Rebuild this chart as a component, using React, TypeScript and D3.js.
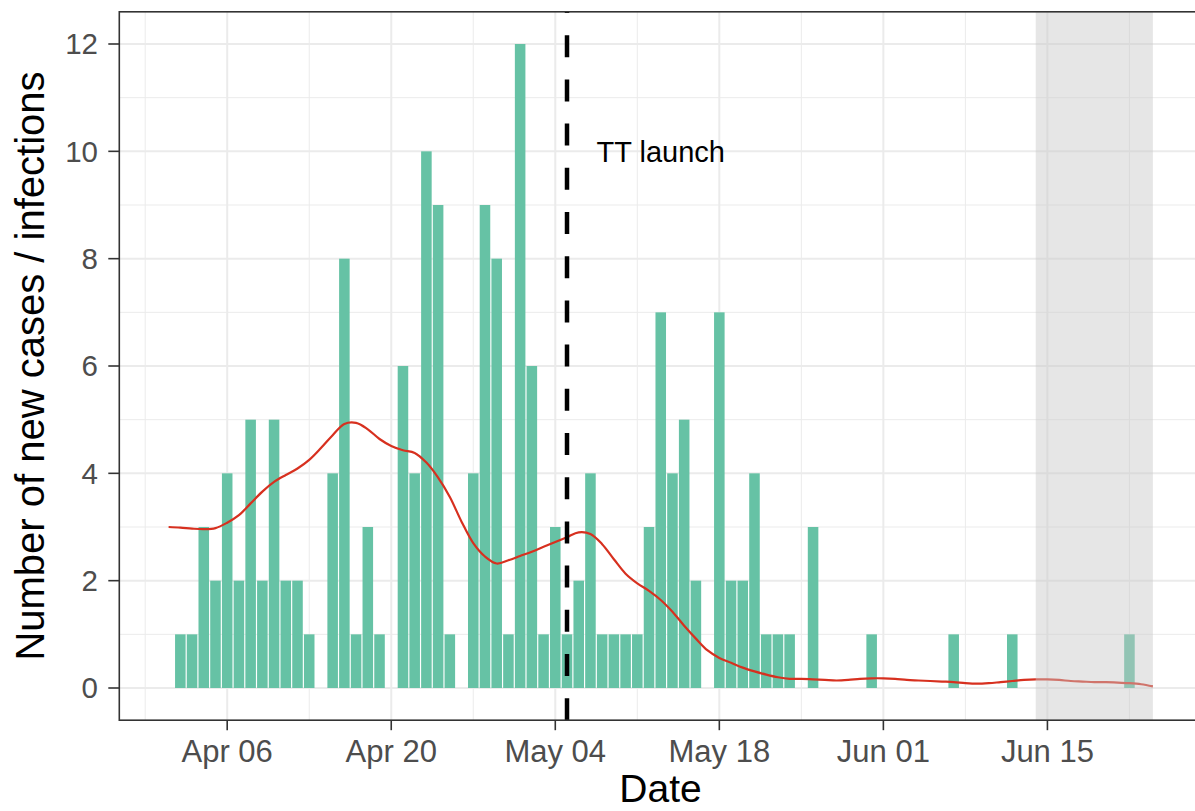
import React from 'react';
import * as d3 from 'd3';

// ---- data ----
const barStart = '2020-04-02';
const barValues = [
  // Apr 2 - Apr 30
  1, 1, 3, 2, 4, 2, 5, 2, 5, 2, 2, 1, 0, 4, 8, 1, 3, 1, 0, 6, 4, 10, 9, 1, 0, 4, 9, 8, 1,
  // May 1 - May 31
  12, 6, 1, 3, 1, 2, 4, 1, 1, 1, 1, 3, 7, 4, 5, 2, 0, 7, 2, 2, 4, 1, 1, 1, 0, 3, 0, 0, 0, 0, 1,
  // Jun 1 - Jun 22
  0, 0, 0, 0, 0, 0, 1, 0, 0, 0, 0, 1, 0, 0, 0, 0, 0, 0, 0, 0, 0, 1,
];

const smoothStart = '2020-04-01';
const smoothValues = [
  // Apr 1 - Apr 30
  3.0, 2.99, 2.97, 2.96, 2.98, 3.08, 3.22, 3.44, 3.66, 3.84, 3.97, 4.09, 4.25, 4.47, 4.71,
  4.92, 4.94, 4.82, 4.64, 4.51, 4.43, 4.38, 4.2, 3.92, 3.56, 3.1, 2.7, 2.45, 2.32, 2.38,
  // May 1 - May 31
  2.46, 2.54, 2.63, 2.72, 2.81, 2.9, 2.87, 2.68, 2.4, 2.13, 1.95, 1.81, 1.64, 1.42, 1.16,
  0.92, 0.7, 0.56, 0.47, 0.38, 0.31, 0.25, 0.2, 0.17, 0.17, 0.16, 0.15, 0.14, 0.15, 0.17, 0.18,
  // Jun 1 - Jun 24
  0.18, 0.17, 0.15, 0.14, 0.13, 0.12, 0.11, 0.09, 0.08, 0.09, 0.11, 0.13, 0.15, 0.16, 0.16,
  0.15, 0.13, 0.12, 0.11, 0.11, 0.1, 0.09, 0.07, 0.03,
];

const yTicks = [0, 2, 4, 6, 8, 10, 12];
const yMinorTicks = [1, 3, 5, 7, 9, 11];
const xTickDates = ['2020-04-06', '2020-04-20', '2020-05-04', '2020-05-18', '2020-06-01', '2020-06-15'];
const xTickLabels = ['Apr 06', 'Apr 20', 'May 04', 'May 18', 'Jun 01', 'Jun 15'];
const xMinorDates = ['2020-03-30', '2020-04-13', '2020-04-27', '2020-05-11', '2020-05-25', '2020-06-08', '2020-06-22'];

const launchDate = '2020-05-05';
const launchLabel = 'TT launch';
const launchLabelDate = '2020-05-13';
const launchLabelY = 10;
const shadeStart = '2020-06-14';
const shadeEnd = '2020-06-24';

const xTitle = 'Date';
const yTitle = 'Number of new cases / infections';

// ---- layout ----
const W = 1195;
const H = 811;
const FONT = "'Liberation Sans', Arial, Helvetica, sans-serif";

const parse = (s: string) => new Date(s + 'T00:00:00Z');

export default function App() {
  const barDates = barValues.map((_, i) => d3.utcDay.offset(parse(barStart), i));
  const smoothDates = smoothValues.map((_, i) => d3.utcDay.offset(parse(smoothStart), i));

  const dataMin = smoothDates[0];
  const dataMax = smoothDates[smoothDates.length - 1];
  const spanDays = (dataMax.getTime() - dataMin.getTime()) / 864e5;
  const padDays = spanDays * 0.05;

  const left = 119.3;
  const top = 11.8;
  const bottom = 720.2;
  const pxPerDay = 164 / 14;
  const right = left + (spanDays + 2 * padDays) * pxPerDay;

  const x = d3
    .scaleUtc()
    .domain([d3.utcHour.offset(dataMin, -padDays * 24), d3.utcHour.offset(dataMax, padDays * 24)])
    .range([left, right]);
  const y = d3.scaleLinear().domain([-0.6, 12.6]).range([bottom, top]);

  const dayPx = x(parse('2020-04-02')) - x(parse('2020-04-01'));
  const barW = dayPx * 0.9;

  const line = d3
    .line<number>()
    .x((_, i) => x(smoothDates[i]))
    .y((v) => y(v))
    .curve(d3.curveCatmullRom);

  const gridColor = '#ebebeb';
  const axisColor = '#333333';

  return (
    <svg
      width={W}
      height={H}
      style={{ position: 'absolute', left: 0, top: 0, background: '#fff' }}
      fontFamily={FONT}
    >
      <defs>
        <clipPath id="panel">
          <rect x={left} y={top} width={right - left} height={bottom - top} />
        </clipPath>
      </defs>
      <rect x={0} y={0} width={W} height={H} fill="#fff" />
      <g clipPath="url(#panel)">
        {/* minor grid */}
        {yMinorTicks.map((t) => (
          <line key={'ym' + t} x1={left} x2={right} y1={y(t)} y2={y(t)} stroke={gridColor} strokeWidth={1} />
        ))}
        {xMinorDates.map((d) => (
          <line key={'xm' + d} x1={x(parse(d))} x2={x(parse(d))} y1={top} y2={bottom} stroke={gridColor} strokeWidth={1} />
        ))}
        {/* major grid */}
        {yTicks.map((t) => (
          <line key={'yg' + t} x1={left} x2={right} y1={y(t)} y2={y(t)} stroke={gridColor} strokeWidth={2} />
        ))}
        {xTickDates.map((d) => (
          <line key={'xg' + d} x1={x(parse(d))} x2={x(parse(d))} y1={top} y2={bottom} stroke={gridColor} strokeWidth={2} />
        ))}
        {/* bars */}
        {barValues.map((v, i) =>
          v > 0 ? (
            <rect
              key={'b' + i}
              x={x(barDates[i]) - barW / 2}
              y={y(v)}
              width={barW}
              height={y(0) - y(v)}
              fill="#66c2a5"
            />
          ) : null
        )}
        {/* smooth line */}
        <path d={line(smoothValues) || ''} fill="none" stroke="#d7301f" strokeWidth={2.2} />
        {/* launch line */}
        <line
          x1={x(parse(launchDate))}
          x2={x(parse(launchDate))}
          y1={bottom}
          y2={top}
          stroke="#000"
          strokeWidth={4.5}
          strokeDasharray="22 22.2"
        />
        {/* shaded period */}
        <rect
          x={x(parse(shadeStart))}
          y={top}
          width={x(parse(shadeEnd)) - x(parse(shadeStart))}
          height={bottom - top}
          fill="#c8c8c8"
          fillOpacity={0.45}
        />
        <text
          x={x(parse(launchLabelDate))}
          y={y(launchLabelY) + 29 * 0.358}
          textAnchor="middle"
          fontSize={29}
          fill="#000"
        >
          {launchLabel}
        </text>
      </g>
      {/* panel border */}
      <rect x={left} y={top} width={right - left} height={bottom - top} fill="none" stroke={axisColor} strokeWidth={1.6} />
      {/* y axis */}
      {yTicks.map((t) => (
        <g key={'yt' + t}>
          <line x1={left - 11} x2={left} y1={y(t)} y2={y(t)} stroke={axisColor} strokeWidth={1.6} />
          <text x={98} y={y(t) + 29 * 0.358} textAnchor="end" fontSize={29.5} fill="#4d4d4d">
            {t}
          </text>
        </g>
      ))}
      {/* x axis */}
      {xTickDates.map((d, i) => (
        <g key={'xt' + d}>
          <line x1={x(parse(d))} x2={x(parse(d))} y1={bottom} y2={bottom + 10} stroke={axisColor} strokeWidth={1.6} />
          <text x={x(parse(d))} y={762} textAnchor="middle" fontSize={31} fill="#4d4d4d">
            {xTickLabels[i]}
          </text>
        </g>
      ))}
      <text x={(left + right) / 2} y={802} textAnchor="middle" fontSize={39} fill="#000">
        {xTitle}
      </text>
      <text
        transform={`translate(44,${(top + bottom) / 2}) rotate(-90)`}
        textAnchor="middle"
        fontSize={40}
        fill="#000"
      >
        {yTitle}
      </text>
    </svg>
  );
}
